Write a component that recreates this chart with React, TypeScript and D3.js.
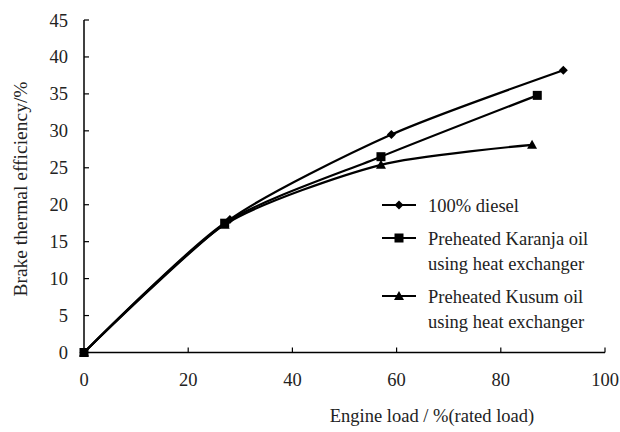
import React from "react";
import * as d3 from "d3";

const xTicks = [0, 20, 40, 60, 80, 100];
const yTicks = [0, 5, 10, 15, 20, 25, 30, 35, 40, 45];

const dieselLoad = [0, 28, 59, 92];
const dieselBTE = [0, 18, 29.5, 38.2];
const karanjaLoad = [0, 27, 57, 87];
const karanjaBTE = [0, 17.5, 26.5, 34.8];
const kusumLoad = [0, 27, 57, 86];
const kusumBTE = [0, 17.3, 25.4, 28.1];

const seriesNames = [
  ["100% diesel"],
  ["Preheated Karanja oil", "using heat exchanger"],
  ["Preheated Kusum oil", "using heat exchanger"],
];

const FONT = "Liberation Serif, Times New Roman, serif";
const TEXT = "#222";

function Marker({ kind, x, y }: { kind: string; x: number; y: number }) {
  if (kind === "diamond") {
    const s = 4.5;
    return <path d={`M${x},${y - s}L${x + s},${y}L${x},${y + s}L${x - s},${y}Z`} fill="#000" />;
  }
  if (kind === "square") {
    const s = 4.5;
    return <rect x={x - s} y={y - s} width={2 * s} height={2 * s} fill="#000" />;
  }
  const s = 5;
  return <path d={`M${x},${y - s}L${x + s},${y + s * 0.8}L${x - s},${y + s * 0.8}Z`} fill="#000" />;
}

export default function App() {
  const x = d3.scaleLinear().domain([0, 100]).range([84, 605]);
  const y = d3.scaleLinear().domain([0, 45]).range([352.5, 20]);
  const line = d3
    .line<[number, number]>()
    .x((d) => x(d[0]))
    .y((d) => y(d[1]))
    .curve(d3.curveCardinal.tension(0.3));

  const series = [
    { kind: "diamond", pts: dieselLoad.map((l, i) => [l, dieselBTE[i]] as [number, number]) },
    { kind: "square", pts: karanjaLoad.map((l, i) => [l, karanjaBTE[i]] as [number, number]) },
    { kind: "triangle", pts: kusumLoad.map((l, i) => [l, kusumBTE[i]] as [number, number]) },
  ];

  const legendY = [205, 238, 296];
  const legendBase = [[212], [245, 270], [303, 328]];

  return (
    <svg
      width={620}
      height={432}
      style={{ position: "absolute", left: 0, top: 0, background: "#fff" }}
      fontFamily={FONT}
    >
      <rect width={620} height={432} fill="#fff" />
      <line x1={x(0)} x2={x(0)} y1={y(45)} y2={y(0)} stroke="#000" strokeWidth={1.5} />
      <line x1={x(0)} x2={x(100)} y1={y(0)} y2={y(0)} stroke="#000" strokeWidth={1.5} />
      {yTicks.map((t) => (
        <g key={"y" + t}>
          {t > 0 && <line x1={x(0)} x2={x(0) + 5} y1={y(t)} y2={y(t)} stroke="#000" strokeWidth={1.2} />}
          <text x={68} y={y(t) + 6.5} textAnchor="end" fontSize={18.5} fill={TEXT}>
            {t}
          </text>
        </g>
      ))}
      {xTicks.map((t) => (
        <g key={"x" + t}>
          {t > 0 && <line x1={x(t)} x2={x(t)} y1={y(0)} y2={y(0) - 5} stroke="#000" strokeWidth={1.2} />}
          <text x={x(t)} y={386} textAnchor="middle" fontSize={18.5} fill={TEXT}>
            {t}
          </text>
        </g>
      ))}
      <text x={432} y={422} textAnchor="middle" fontSize={18.5} fill={TEXT} style={{ whiteSpace: "pre" }}>
        {"Engine load / %(rated load)"}
      </text>
      <text transform={`translate(27,189) rotate(-90)`} textAnchor="middle" fontSize={19.5} fill={TEXT}>
        Brake thermal efficiency/%
      </text>
      {series.map((s, i) => (
        <g key={i}>
          <path d={line(s.pts) || ""} fill="none" stroke="#000" strokeWidth={2.2} />
          {s.pts.map((p, j) => (
            <Marker key={j} kind={s.kind} x={x(p[0])} y={y(p[1])} />
          ))}
        </g>
      ))}
      {series.map((s, i) => (
        <g key={"lg" + i}>
          <line x1={382} x2={416} y1={legendY[i]} y2={legendY[i]} stroke="#000" strokeWidth={2} />
          <Marker kind={s.kind} x={399} y={legendY[i]} />
          {seriesNames[i].map((n, k) => (
            <text key={k} x={428} y={legendBase[i][k]} fontSize={18.5} fill={TEXT}>
              {n}
            </text>
          ))}
        </g>
      ))}
    </svg>
  );
}
